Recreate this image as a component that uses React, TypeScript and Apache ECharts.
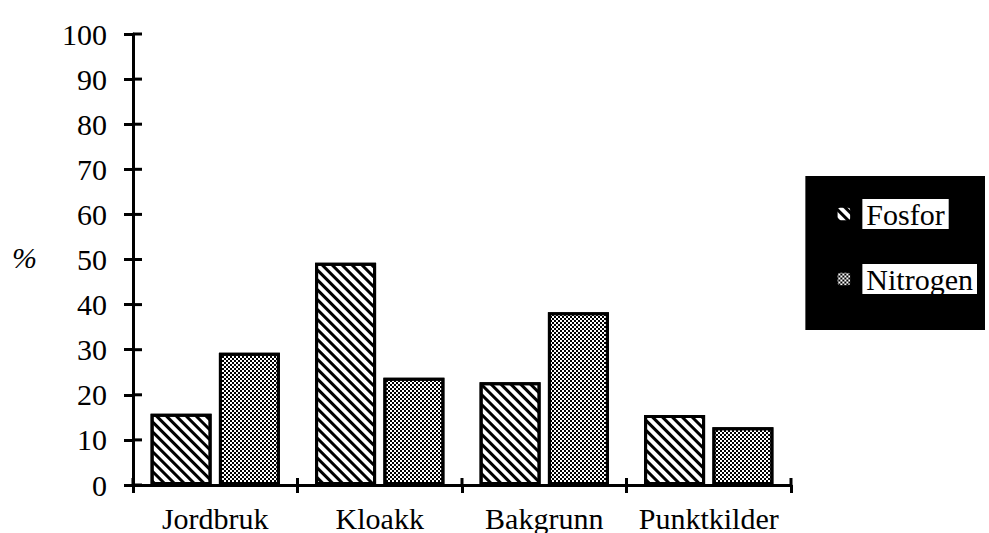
import React, { useEffect, useRef } from "react";
import * as echarts from "echarts";

const categories = ["Jordbruk", "Kloakk", "Bakgrunn", "Punktkilder"];
const fosfor = [15.8, 49.3, 22.8, 15.5];
const nitrogen = [29.3, 23.8, 38.3, 12.8];
const yTicks = [0, 10, 20, 30, 40, 50, 60, 70, 80, 90, 100];

const FONT = "Liberation Serif";

export default function App() {
  const ref = useRef<HTMLDivElement>(null);
  useEffect(() => {
    if (!ref.current) return;
    const chart = echarts.init(ref.current, undefined, { renderer: "svg" });
    const axisLine = { show: true, lineStyle: { color: "#000", width: 3 } };
    const tickStyle = { color: "#000", width: 3 };
    chart.setOption({
      animation: false,
      backgroundColor: "#fff",
      grid: { left: 133, right: 198, top: 34, bottom: 47 },
      legend: {
        orient: "vertical",
        right: 4,
        top: 176,
        backgroundColor: "#000",
        padding: [23, 8, 36, 30],
        itemGap: 35,
        itemWidth: 15,
        itemHeight: 15,
        data: ["Fosfor", "Nitrogen"],
        formatter: (n: string) => "{s|}{b|" + n + "}",
        textStyle: {
          rich: {
            s: { width: 6 },
            b: {
              backgroundColor: "#fff",
              color: "#000",
              fontFamily: FONT,
              fontSize: 30,
              padding: [0, 4, 0, 4],
              lineHeight: 28,
            },
          },
        },
      },
      xAxis: {
        type: "category",
        data: categories,
        axisLine,
        axisTick: { show: true, length: 8, lineStyle: tickStyle },
        axisLabel: { color: "#000", fontFamily: FONT, fontSize: 30, margin: 18, interval: 0 },
      },
      yAxis: {
        type: "value",
        min: 0,
        max: 100,
        interval: 10,
        axisLine,
        splitLine: { show: false },
        axisTick: { show: true, length: 9, lineStyle: tickStyle },
        axisLabel: {
          color: "#000",
          fontFamily: FONT,
          fontSize: 30,
          margin: 26,
          formatter: (v: number) => (yTicks.includes(v) ? String(v) : ""),
        },
      },
      series: [
        {
          name: "Fosfor",
          type: "bar",
          data: fosfor,
          barWidth: 61,
          barGap: "12%",
          itemStyle: {
            color: "#fff",
            borderColor: "#000",
            borderWidth: 3,
            decal: {
              symbol: "rect",
              symbolSize: 1,
              color: "#000",
              dashArrayX: [1, 0],
              dashArrayY: [3, 4],
              rotation: Math.PI / 4,
            },
          },
        },
        {
          name: "Nitrogen",
          type: "bar",
          data: nitrogen,
          barWidth: 61,
          itemStyle: {
            color: "#fff",
            borderColor: "#000",
            borderWidth: 3,
            decal: {
              symbol: "rect",
              symbolSize: 1,
              color: "#000",
              dashArrayX: [[2, 2], [0, 2, 2, 0]],
              dashArrayY: [2, 0],
              rotation: 0,
            },
          },
        },
      ],
    });

    // Inner halves of the crossing tick marks, positioned through the chart's own scales
    const elements: any[] = [
      {
        type: "text",
        left: 12,
        top: 242,
        style: { text: "%", font: `italic 30px ${FONT}`, fill: "#000" },
      },
    ];
    const originX = chart.convertToPixel({ gridIndex: 0 }, [0, 0]) as number[];
    const nextX = chart.convertToPixel({ gridIndex: 0 }, [1, 0]) as number[];
    const band = nextX[0] - originX[0];
    const axisX = originX[0] - band / 2;
    yTicks.forEach((v) => {
      const p = chart.convertToPixel({ gridIndex: 0 }, [0, v]) as number[];
      elements.push({
        type: "line",
        z: 10,
        silent: true,
        shape: { x1: axisX, y1: p[1], x2: axisX + 9, y2: p[1] },
        style: { stroke: "#000", lineWidth: 3 },
      });
    });
    for (let i = 0; i <= categories.length; i++) {
      const c = chart.convertToPixel({ gridIndex: 0 }, [Math.min(i, categories.length - 1), 0]) as number[];
      const x = i < categories.length ? c[0] - band / 2 : c[0] + band / 2;
      elements.push({
        type: "line",
        z: 10,
        silent: true,
        shape: { x1: x, y1: c[1], x2: x, y2: c[1] - 7 },
        style: { stroke: "#000", lineWidth: 3 },
      });
    }
    chart.setOption({ graphic: elements });
    return () => chart.dispose();
  }, []);
  return <div ref={ref} style={{ width: 989, height: 533, position: "absolute", left: 0, top: 0 }} />;
}
